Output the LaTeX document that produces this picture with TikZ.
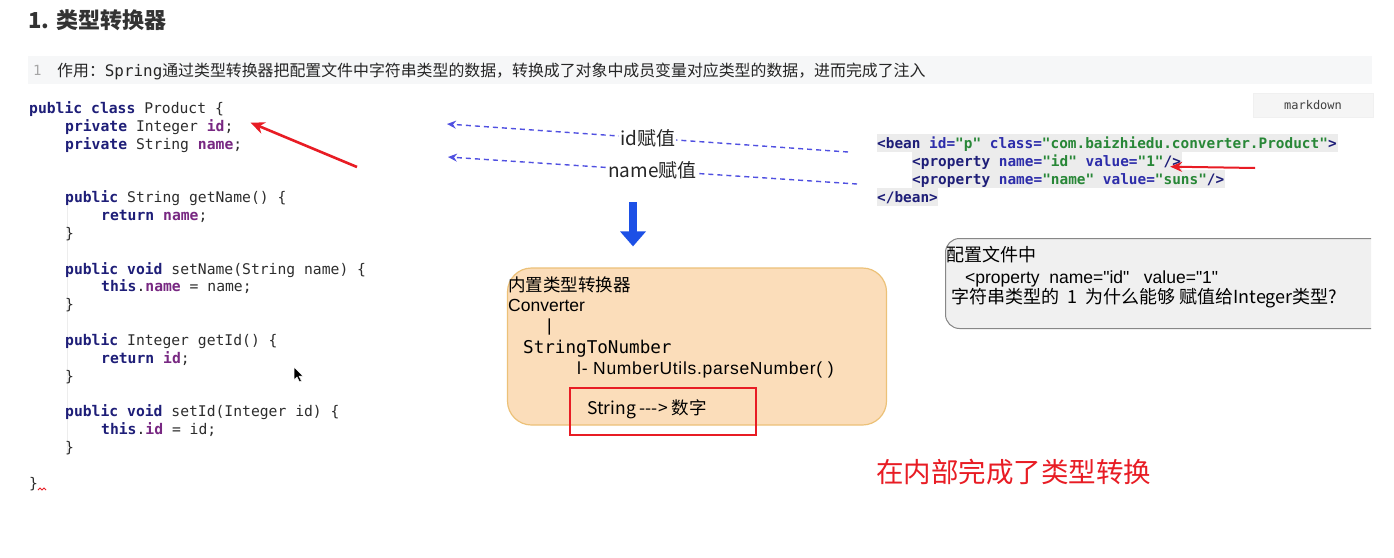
\documentclass[tikz,border=0pt]{standalone}
\usepackage{fontspec}
\setmainfont{Liberation Sans}[Ligatures=TeXOff]
\setmonofont{DejaVu Sans Mono}
\newfontfamily\cjk{Noto Sans CJK SC}[Ligatures=TeXOff]
\usetikzlibrary{arrows.meta,positioning}
\definecolor{kwnavy}{RGB}{30,30,120}
\definecolor{fieldpurple}{RGB}{120,40,130}
\definecolor{codegray}{RGB}{45,45,45}
\definecolor{attrblue}{RGB}{45,45,170}
\definecolor{strgreen}{RGB}{40,135,55}
\definecolor{hlgray}{RGB}{236,236,236}
\definecolor{bandgray}{RGB}{246,247,248}
\definecolor{dashblue}{RGB}{80,80,225}
\definecolor{downblue}{RGB}{28,80,230}
\definecolor{convfill}{RGB}{251,221,186}
\definecolor{convline}{RGB}{236,193,120}
\definecolor{markred}{RGB}{232,28,36}
\definecolor{qfill}{RGB}{240,240,240}
\definecolor{qline}{RGB}{135,135,135}
\newcommand{\javafont}{\ttfamily\fontsize{14.7}{17}\selectfont}
\newcommand{\xmlfont}{\ttfamily\fontsize{14.4}{17}\selectfont}
\newcommand{\boxfont}{\fontsize{17.5}{20}\selectfont}
\newcommand{\jkw}[1]{\textbf{\color{kwnavy}#1}}
\newcommand{\jfield}[1]{\textbf{\color{fieldpurple}#1}}
\newcommand{\xtag}[1]{\textbf{\color{kwnavy}#1}}
\newcommand{\xattr}[1]{\textbf{\color{attrblue}#1}}
\newcommand{\xval}[1]{\textbf{\color{strgreen}#1}}

\begin{document}
\begin{tikzpicture}[x=1pt,y=-1pt,
    every node/.style={inner sep=0pt},
    code/.style={anchor=base west,font=\javafont,text=codegray},
    xml/.style={anchor=base west,font=\xmlfont,text=codegray},
    boxtext/.style={anchor=base west,font=\boxfont,text=black},
    cjktext/.style={anchor=base west,font=\cjk\fontsize{18}{21}\selectfont,text=black},
    dasharrow/.style={dashblue,line width=1.4pt,dash pattern=on 5pt off 4pt,-{Stealth[length=9pt,width=8pt]}},
    redarrow/.style={markred,line width=2.6pt,-{Stealth[length=14pt,width=12pt]}},
    dashlabel/.style={fill=white,inner sep=1pt,font=\cjk\fontsize{19}{22}\selectfont,text=black!85}]
  \useasboundingbox (0,0) rectangle (1394,557);
  \fill[white] (0,0) rectangle (1394,557);

  \node[anchor=base west,font=\cjk\bfseries\fontsize{22}{26}\selectfont,text=black!80] (title) at (28,28) {1. 类型转换器};
  \fill[bandgray] (28,56) rectangle (1372,84);
  \node[anchor=base west,font=\ttfamily\fontsize{14}{16}\selectfont,text=black!35] (lineno) at (33,75) {1};
  \node[anchor=base west,font=\cjk\fontsize{15.9}{18}\selectfont,text=black!85] (purpose) at (57,76)
    {作用：{\ttfamily Spring}通过类型转换器把配置文件中字符串类型的数据，转换成了对象中成员变量对应类型的数据，进而完成了注入};
  \node[draw=black!6,fill=black!4,minimum width=120pt,minimum height=24pt,
        font=\ttfamily\fontsize{12}{14}\selectfont,text=black!75] (mdbtn) at (1313,105) {markdown};

  \draw[black!7] (67,205) -- (67,455);
  \node[code] (j0) at (29,113) {\jkw{public} \jkw{class} Product \{};
  \node[code] (j1) at (65,131) {\jkw{private} Integer \jfield{id};};
  \node[code] (j2) at (65,149) {\jkw{private} String \jfield{name};};
  \node[code] (j3) at (65,202) {\jkw{public} String getName() \{};
  \node[code] (j4) at (101,220) {\jkw{return} \jfield{name};};
  \node[code] (j5) at (65,238) {\}};
  \node[code] (j6) at (65,274) {\jkw{public} \jkw{void} setName(String name) \{};
  \node[code] (j7) at (101,291) {\jkw{this}.\jfield{name} = name;};
  \node[code] (j8) at (65,309) {\}};
  \node[code] (j9) at (65,345) {\jkw{public} Integer getId() \{};
  \node[code] (j10) at (101,363) {\jkw{return} \jfield{id};};
  \node[code] (j11) at (65,381) {\}};
  \node[code] (j12) at (65,416) {\jkw{public} \jkw{void} setId(Integer id) \{};
  \node[code] (j13) at (101,434) {\jkw{this}.\jfield{id} = id;};
  \node[code] (j14) at (65,452) {\}};
  \node[code] (j15) at (29,488) {\}};
  \draw[markred,line width=0.8pt] (38,490) -- (40,488) -- (42,490) -- (44,488) -- (46,490);
  \filldraw[fill=black,draw=white,line width=0.5pt] (294,367) -- (294,380) -- (297,377) -- (299.5,382)
    -- (301.5,381) -- (299,376) -- (303,376) -- cycle;

  \coordinate (idtail) at (357,167);
  \draw[redarrow] (idtail) -- ([xshift=17pt,yshift=4pt]j1.east);

  \fill[hlgray] (877,134) rectangle (1338,152);
  \fill[hlgray] (912,152) rectangle (1182,170);
  \fill[hlgray] (912,170) rectangle (1225,188);
  \fill[hlgray] (877,188) rectangle (938,206);
  \node[xml] (x0) at (877,148) {\xtag{<bean} \xattr{id=}\xval{"p"} \xattr{class=}\xval{"com.baizhiedu.converter.Product"}\xtag{>}};
  \node[xml] (x1) at (912,166) {\xtag{<property} \xattr{name=}\xval{"id"} \xattr{value=}\xval{"1"}\xtag{/>}};
  \node[xml] (x2) at (912,184) {\xtag{<property} \xattr{name=}\xval{"name"} \xattr{value=}\xval{"suns"}\xtag{/>}};
  \node[xml] (x3) at (877,202) {\xtag{</bean>}};
  \coordinate (xtail) at (1255,168);
  \draw[markred,line width=2pt,-{Stealth[length=12pt,width=10pt]}] (xtail) -- ([xshift=-11pt,yshift=-5pt]x1.east);

  \coordinate (idfrom) at (848,152);
  \coordinate (idto) at (447,124);
  \draw[dasharrow] (idfrom) -- (idto) node[dashlabel,midway] (idlbl) {id赋值};
  \coordinate (namefrom) at (857,184);
  \coordinate (nameto) at (448,157);
  \draw[dasharrow] (namefrom) -- (nameto) node[dashlabel,midway] (namelbl) {name赋值};

  \node[draw=convline,fill=convfill,line width=1.2pt,rounded corners=24pt,
        minimum width=379pt,minimum height=157pt] (conv) at (697,346.5) {};
  \coordinate (downfrom) at (633,202);
  \path (conv.north -| downfrom) coordinate (convtop);
  \draw[downblue,line width=8pt,-{Triangle[width=25pt,length=15pt]}] (downfrom) -- ([yshift=21pt]convtop);
  \node[boxtext,font=\cjk\boxfont] (c0) at (508,291.5) {内置类型转换器};
  \node[boxtext] (c1) at (508,311) {Converter};
  \node[boxtext] (c2) at (547,331) {|};
  \node[boxtext,font=\ttfamily\fontsize{17.6}{20}\selectfont] (c3) at (523,353) {StringToNumber};
  \node[boxtext,font=\boxfont\addfontfeature{LetterSpace=4}] (c4) at (577,374) {l- NumberUtils.parseNumber( )};
  \node[draw=markred,line width=1.6pt,minimum width=186pt,minimum height=47pt] (numbox) at (663,411.5) {};
  \node[boxtext,font=\cjk\boxfont] (c5) at (587,414) {String ---> 数字};

  \begin{scope}
    \clip (930,225) rectangle (1371,340);
    \node[draw=qline,fill=qfill,line width=1pt,rounded corners=14pt,anchor=north west,
          minimum width=470pt,minimum height=90pt] (qbox) at (945,238) {};
  \end{scope}
  \node[cjktext] (q0) at (946,261.5) {配置文件中};
  \node[boxtext] (q1) at (965,283) {<property~~name="id"~~~value="1"};
  \node[cjktext] (q2) at (951,303.5) {字符串类型的~~1~~为什么能够~赋值给Integer类型?};

  \node[anchor=base west,font=\cjk\fontsize{27.5}{30}\selectfont,text=markred] (inside) at (876,482) {在内部完成了类型转换};
\end{tikzpicture}
\end{document}
